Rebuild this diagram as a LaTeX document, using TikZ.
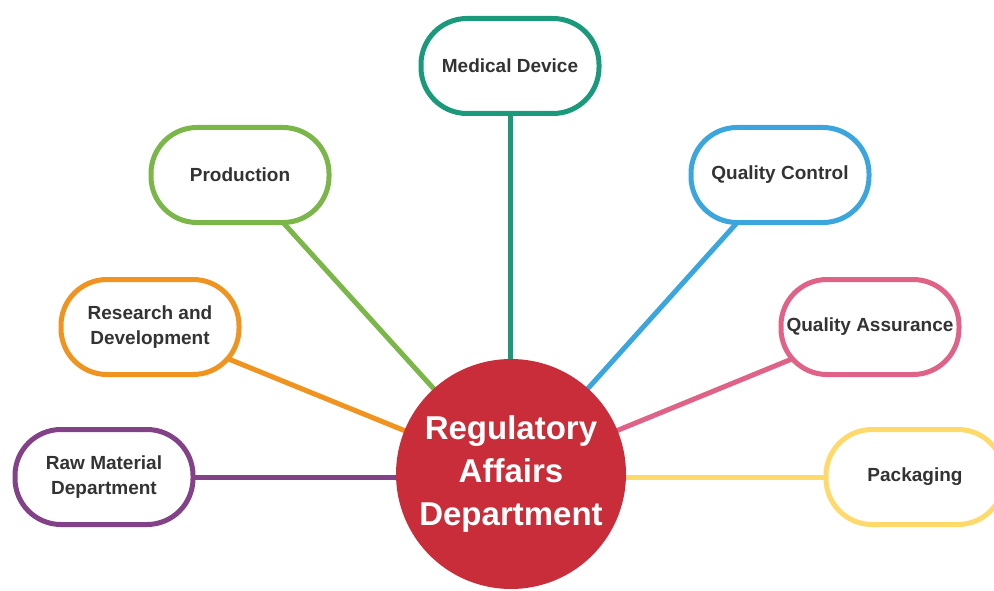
\documentclass[tikz,border=0pt]{standalone}
\usepackage{fontspec}
\setmainfont{Liberation Sans}
\usetikzlibrary{backgrounds}

\definecolor{hubred}{HTML}{C92D39}
\definecolor{textgray}{HTML}{333333}
\definecolor{medteal}{HTML}{1A9A7B}
\definecolor{prodgreen}{HTML}{7AB648}
\definecolor{qcblue}{HTML}{3AA6DD}
\definecolor{rdorange}{HTML}{F0931F}
\definecolor{qapink}{HTML}{E06287}
\definecolor{rawpurple}{HTML}{834187}
\definecolor{packyellow}{HTML}{FFDA6A}

\begin{document}
\begin{tikzpicture}[x=1pt, y=1pt, yscale=-1,
  dept/.style={draw=#1, line width=5pt, fill=white, rounded corners=46pt,
    minimum width=178pt, minimum height=95pt, align=center,
    font=\fontsize{19}{24.5}\selectfont\bfseries, text=textgray},
  link/.style={draw=#1, line width=5pt}]
  \useasboundingbox (0,0) rectangle (994,591);

  % hub
  \node[circle, fill=hubred, minimum size=230pt, inner sep=0pt, align=center,
    text=white, font=\fontsize{33}{43}\selectfont\bfseries] (ra) at (511,474)
    {Regulatory\\Affairs\\Department};

  % departments
  \node[dept=medteal] (med) at (510,66) {Medical Device};
  \node[dept=prodgreen] (prod) at (240,175) {Production};
  \node[dept=qcblue] (qc) at (780,175) {Quality Control};
  \node[dept=rdorange] (rd) at (150,327) {Research and\\Development};
  \node[dept=qapink] (qa) at (870,327) {Quality Assurance};
  \node[dept=rawpurple] (raw) at (104,477) {Raw Material\\Department};
  \node[dept=packyellow] (pack) at (915,477) {Packaging};

  % spokes behind everything
  \begin{scope}[on background layer]
    \path[link=medteal] (med.center) -- (med |- ra);
    \path[link=prodgreen] (prod.center) -- (ra.center);
    \path[link=qcblue] (qc.center) -- (ra.center);
    \path[link=rdorange] (rd.center) -- (ra.center);
    \path[link=qapink] (qa.center) -- (ra.center);
    \path[link=rawpurple] (raw.center) -- (raw -| ra);
    \path[link=packyellow] (pack.center) -- (pack -| ra);
  \end{scope}
\end{tikzpicture}
\end{document}
